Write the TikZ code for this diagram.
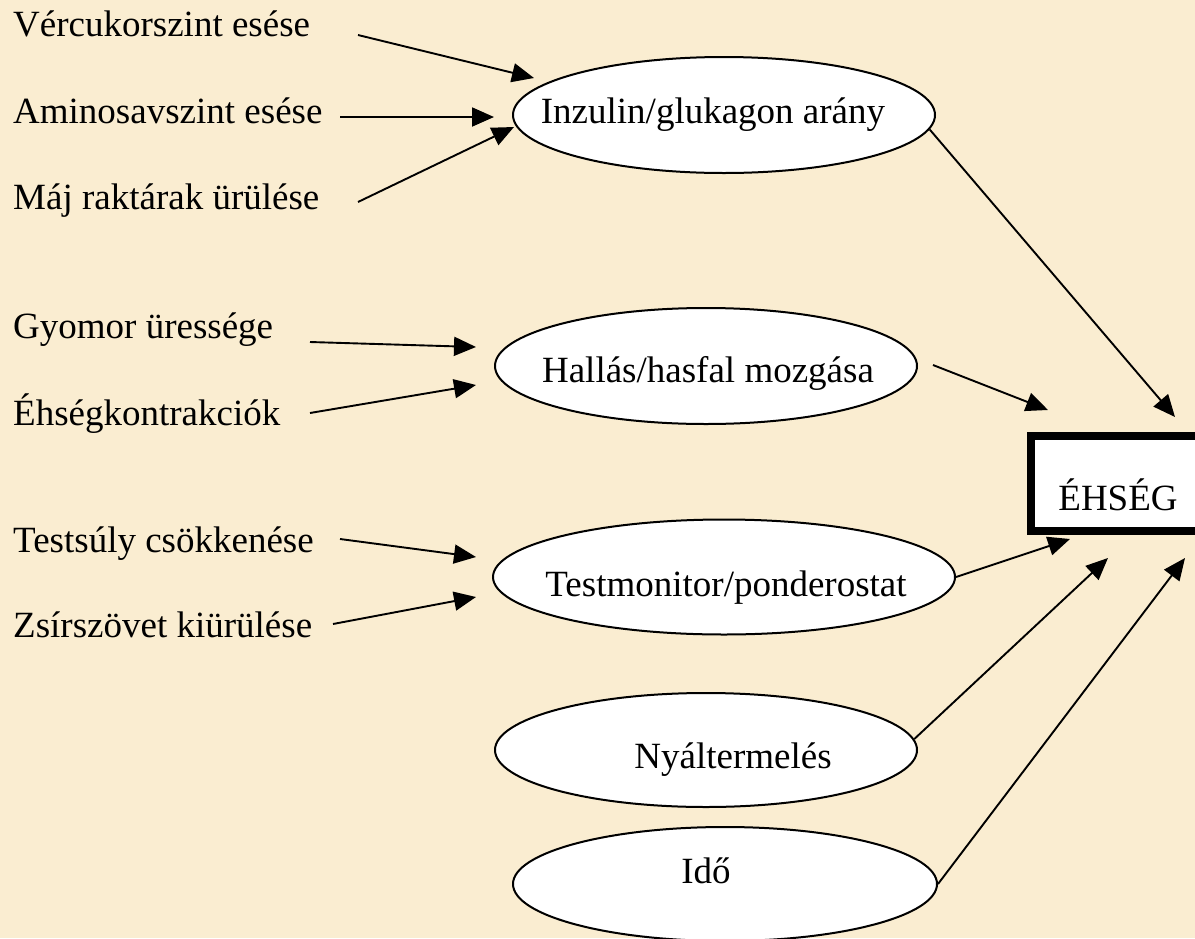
\documentclass[tikz,border=0pt]{standalone}
\usepackage{fontspec}
\setmainfont{Liberation Serif}
\usetikzlibrary{arrows.meta,shapes.geometric}
\definecolor{bgc}{RGB}{250,237,209}
\begin{document}
\begin{tikzpicture}[x=1pt,y=-1pt,
  lbl/.style={anchor=base west,inner sep=0pt,font=\fontsize{37}{44}\selectfont},
  txt/.style={anchor=base,inner sep=0pt,font=\fontsize{37}{44}\selectfont},
  oval/.style={ellipse,draw,line width=2pt,fill=white,inner sep=0pt},
  arr/.style={line width=1.9pt,-{Triangle[length=22pt,width=19pt]}}]
\useasboundingbox (0,0) rectangle (1195,938);
\fill[bgc] (0,0) rectangle (1195,938);
\clip (0,0) rectangle (1195,938);
% left labels
\node[lbl] (l1) at (13,36) {Vércukorszint esése};
\node[lbl] (l2) at (13,123) {Aminosavszint esése};
\node[lbl] (l3) at (13,209) {Máj raktárak ürülése};
\node[lbl] (l4) at (13,338) {Gyomor üressége};
\node[lbl] (l5) at (13,425) {Éhségkontrakciók};
\node[lbl] (l6) at (13,552) {Testsúly csökkenése};
\node[lbl] (l7) at (13,637) {Zsírszövet kiürülése};
% ellipses
\node[oval,minimum width=422pt,minimum height=116pt] (inz) at (724,115) {};
\node[oval,minimum width=422pt,minimum height=116pt] (hal) at (706,366) {};
\node[oval,minimum width=462pt,minimum height=115pt] (tm) at (724,577) {};
\node[oval,minimum width=422pt,minimum height=114pt] (ny) at (706,750) {};
\node[oval,minimum width=424pt,minimum height=114pt] (ido) at (725,884) {};
\node[txt] (tinz) at (713,123) {Inzulin/glukagon arány};
\node[txt] (thal) at (708,382) {Hallás/hasfal mozgása};
\node[txt] (ttm) at (726,596) {Testmonitor/ponderostat};
\node[txt] (tny) at (733,768) {Nyáltermelés};
\node[txt] (tido) at (706,883) {Idő};
% box
\node[draw,line width=8pt,fill=white,minimum width=179pt,minimum height=95pt,inner sep=0pt] (box) at (1120.5,483.5) {};
\node[txt] (tbox) at (1118,510) {ÉHSÉG};
% coordinates
\coordinate (s1) at (358,35);  \coordinate (e1) at (534,78);
\coordinate (s2) at (340,117); \coordinate (e2) at (494,117);
\coordinate (s3) at (358,202); \coordinate (e3) at (514,127);
\coordinate (s4) at (310,342); \coordinate (e4) at (476,347);
\coordinate (s5) at (310,413); \coordinate (e5) at (476,385);
\coordinate (s6) at (340,539); \coordinate (e6) at (476,557);
\coordinate (s7) at (333,624); \coordinate (e7) at (476,597);
\coordinate (s9) at (933,365);
\coordinate (e8) at (1175,417);
\coordinate (e9) at (1048,410);
\coordinate (e10) at (1070,539);
\coordinate (e11) at (1108,558);
\coordinate (e12) at (1185,558);
% arrows
\draw[arr] (s1) -- (e1);
\draw[arr] (s2) -- (e2);
\draw[arr] (s3) -- (e3);
\draw[arr] (s4) -- (e4);
\draw[arr] (s5) -- (e5);
\draw[arr] (s6) -- (e6);
\draw[arr] (s7) -- (e7);
\draw[arr] (inz.-4) -- (e8);
\draw[arr] (s9) -- (e9);
\draw[arr] (tm.east) -- (e10);
\draw[arr] (ny.3) -- (e11);
\draw[arr] (ido.east) -- (e12);
\end{tikzpicture}
\end{document}
